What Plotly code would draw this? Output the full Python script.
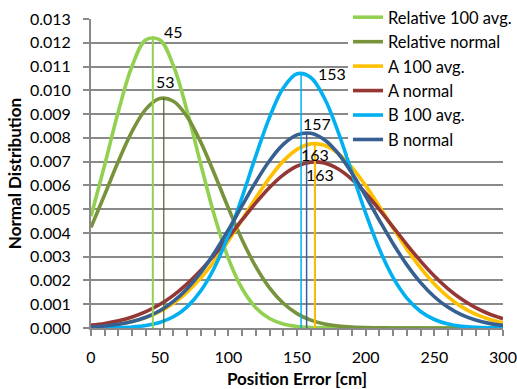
import plotly.graph_objects as go

# ---- data ----
x_cm = list(range(0, 301, 10))

rel_100 = [0.004705, 0.006871, 0.009128, 0.011031, 0.012126, 0.012126, 0.011031, 0.009128,
           0.006871, 0.004705, 0.002930, 0.001661, 0.000856, 0.000401, 0.000171, 0.000066,
           0.000023, 0.000008, 0.000002, 0.000001, 0, 0, 0, 0, 0, 0, 0, 0, 0, 0, 0]
rel_norm = [0.004232, 0.005615, 0.007024, 0.008283, 0.009210, 0.009654, 0.009541, 0.008890,
            0.007809, 0.006468, 0.005050, 0.003717, 0.002580, 0.001688, 0.001041, 0.000606,
            0.000332, 0.000172, 0.000084, 0.000038, 0.000017, 0.000007, 0.000003, 0.000001,
            0, 0, 0, 0, 0, 0, 0]
a_100 = [0.000051, 0.000092, 0.000162, 0.000273, 0.000443, 0.000692, 0.001042, 0.001510,
         0.002107, 0.002830, 0.003662, 0.004560, 0.005469, 0.006315, 0.007021, 0.007516,
         0.007747, 0.007688, 0.007347, 0.006760, 0.005989, 0.005109, 0.004196, 0.003318,
         0.002527, 0.001852, 0.001308, 0.000889, 0.000582, 0.000367, 0.000222]
a_norm = [0.000119, 0.000193, 0.000304, 0.000464, 0.000687, 0.000986, 0.001374, 0.001856,
          0.002430, 0.003087, 0.003803, 0.004544, 0.005264, 0.005915, 0.006445, 0.006811,
          0.006980, 0.006938, 0.006687, 0.006251, 0.005666, 0.004981, 0.004247, 0.003512,
          0.002816, 0.002190, 0.001651, 0.001208, 0.000857, 0.000589, 0.000393]
b_100 = [0.000002, 0.000007, 0.000018, 0.000045, 0.000106, 0.000232, 0.000471, 0.000890,
         0.001564, 0.002557, 0.003889, 0.005502, 0.007240, 0.008863, 0.010094, 0.010695,
         0.010542, 0.009666, 0.008245, 0.006543, 0.004830, 0.003317, 0.002119, 0.001260,
         0.000696, 0.000358, 0.000171, 0.000076, 0.000032, 0.000012, 0.000004]
b_norm = [0.000045, 0.000085, 0.000154, 0.000270, 0.000453, 0.000727, 0.001120, 0.001654,
          0.002340, 0.003174, 0.004127, 0.005144, 0.006145, 0.007036, 0.007723, 0.008125,
          0.008194, 0.007921, 0.007340, 0.006520, 0.005551, 0.004530, 0.003544, 0.002657,
          0.001910, 0.001316, 0.000869, 0.000550, 0.000334, 0.000194, 0.000108]

series_names = ["Relative 100 avg.", "Relative normal", "A 100 avg.", "A normal",
                "B 100 avg.", "B normal"]
series_values = [rel_100, rel_norm, a_100, a_norm, b_100, b_norm]
means = [45, 53, 163, 163, 153, 157]
peaks = [0.01227, 0.00968, 0.00776, 0.00699, 0.01073, 0.00821]
mean_labels = ["45", "53", "163", "163", "153", "157"]

# ---- styles ----
colors = ["#92D050", "#77933C", "#FFC000", "#953735", "#00B0F0", "#376092"]
vline_colors = ["#92D050", "#4F6228", "#FFC000", "#953735", "#00B0F0", "#376092"]
vline_widths = [2, 1.2, 2, 1.5, 1.5, 1.5]
label_shift = [(21, 5), (2, 16), (0, -11), (5, -13), (31, -1), (10, 9)]
FONT = "Lato, 'Open Sans', sans-serif"

fig = go.Figure()
for name, vals, col in zip(series_names, series_values, colors):
    fig.add_trace(go.Scatter(x=x_cm, y=vals, name=name, mode="lines",
                             line=dict(color=col, width=3.6, shape="spline", smoothing=1)))

order = [1, 0, 3, 2, 4, 5]
for i in order:
    fig.add_trace(go.Scatter(x=[means[i], means[i]], y=[0, peaks[i]], mode="lines",
                             showlegend=False, hoverinfo="skip",
                             line=dict(color=vline_colors[i], width=vline_widths[i])))

for i in range(6):
    dx, dy = label_shift[i]
    fig.add_annotation(x=means[i], y=peaks[i], text=mean_labels[i], showarrow=False,
                       xshift=dx, yshift=dy, xanchor="center", yanchor="middle",
                       font=dict(family=FONT, size=16, color="#000000"))

W, H = 517, 389
grid_col = "#898989"
fig.update_layout(
    width=W, height=H,
    margin=dict(l=0, r=0, t=0, b=0, autoexpand=False),
    paper_bgcolor="white", plot_bgcolor="white",
    font=dict(family=FONT, size=16, color="#000000"),
    showlegend=True,
    legend=dict(x=1.0, y=1.0, xanchor="right", yanchor="top", bgcolor="white",
                font=dict(family=FONT, size=16.5, color="#000000"),
                borderwidth=0, tracegroupgap=0),
    xaxis=dict(domain=[91 / W, 503 / W], automargin=False,
               range=[0, 300], dtick=50, tick0=0, showgrid=False, zeroline=False,
               showline=True, linecolor=grid_col, linewidth=2,
               ticks="outside", ticklen=6, tickcolor=grid_col, tickwidth=1.5,
               minor=dict(dtick=10, ticks="outside", ticklen=6, tickcolor=grid_col,
                          tickwidth=1.5, showgrid=False),
               ticklabelstandoff=8,
               tickfont=dict(family=FONT, size=16),
               title=dict(text="<b>Position Error [cm]</b>", standoff=10,
                          font=dict(family=FONT, size=17))),
    yaxis=dict(domain=[(H - 328) / H, (H - 19) / H], automargin=False,
               range=[0, 0.013], dtick=0.001, tick0=0, tickformat=".3f",
               showgrid=True, gridcolor=grid_col, gridwidth=1.8, zeroline=False,
               showline=True, linecolor=grid_col, linewidth=2,
               ticks="outside", ticklen=6, tickcolor=grid_col, tickwidth=1.5,
               ticklabelstandoff=9,
               tickfont=dict(family=FONT, size=16),
               title=dict(text="<b>Normal Distribution</b>", standoff=4,
                          font=dict(family=FONT, size=17))),
)

fig.write_html("out.html")
